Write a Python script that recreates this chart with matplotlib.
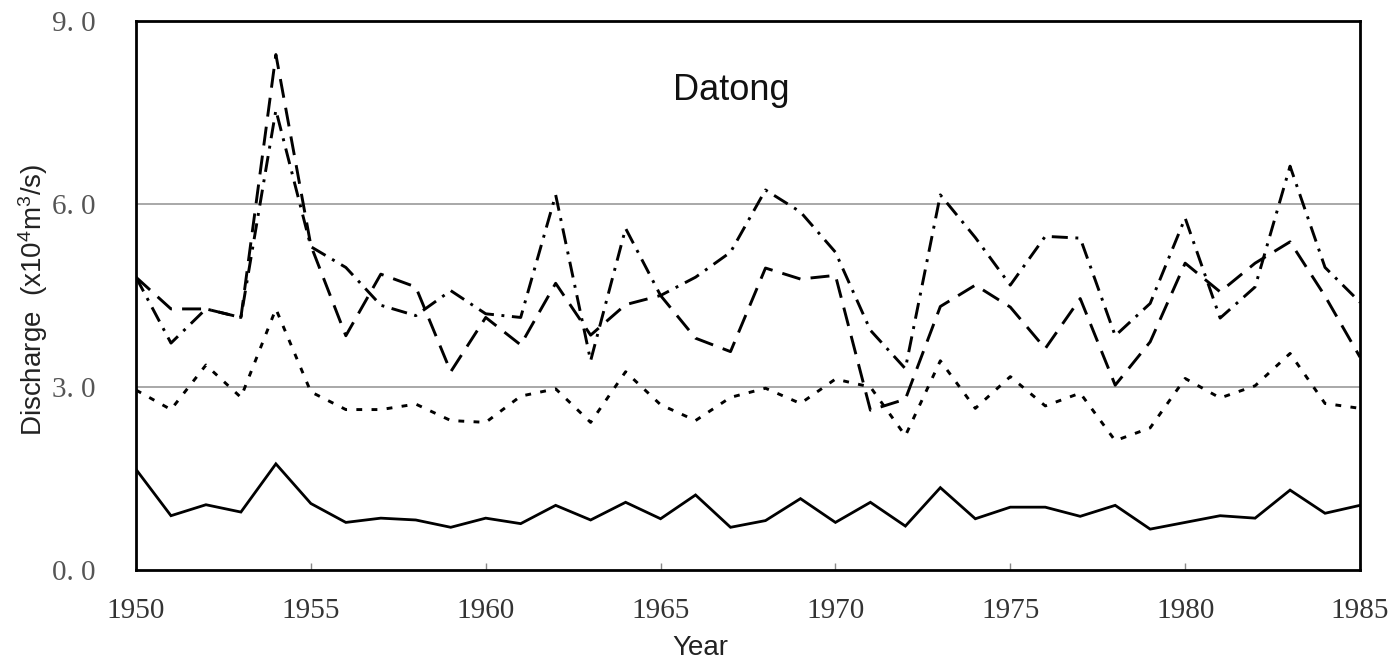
import matplotlib
matplotlib.use("Agg")
import matplotlib.pyplot as plt
import numpy as np

years = list(range(1950, 1986))

# solid line
series_solid = [1.65, 0.89, 1.07, 0.95, 1.74, 1.09, 0.78, 0.85, 0.82, 0.70,
                0.85, 0.76, 1.06, 0.82, 1.11, 0.84, 1.23, 0.70, 0.81, 1.17,
                0.78, 1.11, 0.72, 1.35, 0.84, 1.03, 1.03, 0.88, 1.06, 0.67,
                0.78, 0.89, 0.85, 1.31, 0.93, 1.06]

# dotted (short dashes)
series_dotted = [2.95, 2.63, 3.36, 2.83, 4.28, 2.92, 2.63, 2.63, 2.72, 2.45,
                 2.42, 2.85, 2.97, 2.42, 3.25, 2.71, 2.45, 2.83, 2.98, 2.73,
                 3.13, 3.00, 2.20, 3.43, 2.65, 3.17, 2.69, 2.90, 2.12, 2.33,
                 3.14, 2.82, 3.02, 3.55, 2.73, 2.65]

# long dashes
series_dashed = [4.80, 4.28, 4.28, 4.14, 8.45, 5.32, 3.84, 4.85, 4.64, 3.25,
                 4.14, 3.69, 4.70, 3.85, 4.35, 4.50, 3.80, 3.58, 4.95, 4.77,
                 4.83, 2.62, 2.80, 4.32, 4.67, 4.31, 3.63, 4.45, 3.03, 3.74,
                 5.03, 4.56, 5.03, 5.38, 4.49, 3.49]

# dash-dot
series_dashdot = [4.80, 3.72, 4.28, 4.14, 7.54, 5.30, 4.96, 4.34, 4.17, 4.58,
                  4.20, 4.14, 6.15, 3.43, 5.60, 4.50, 4.80, 5.21, 6.23, 5.87,
                  5.21, 3.93, 3.30, 6.15, 5.45, 4.67, 5.47, 5.44, 3.84, 4.37,
                  5.77, 4.13, 4.64, 6.62, 4.96, 4.39]

yticks = [0.0, 3.0, 6.0, 9.0]
ytick_labels = ["0. 0", "3. 0", "6. 0", "9. 0"]
xticks = [1950, 1955, 1960, 1965, 1970, 1975, 1980, 1985]
title_text = "Datong"

plt.rcParams['mathtext.default'] = 'regular'

fig = plt.figure(figsize=(13.96, 6.61), dpi=100)
ax = fig.add_axes([136/1396, 1 - 570/661, (1360-136)/1396, (570-21)/661])

for y in [3.0, 6.0]:
    ax.axhline(y, color='#9a9a9a', lw=1.2, zorder=1)

lw = 2.1
ax.plot(years, series_solid, color='black', lw=2.0, solid_joinstyle='miter', zorder=3)
ax.plot(years, series_dotted, color='black', lw=lw, dashes=(2.0, 3.2), zorder=3)
ax.plot(years, series_dashed, color='black', lw=lw, dashes=(6.5, 3.5), zorder=3)
ax.plot(years, series_dashdot, color='black', lw=lw, dashes=(5.5, 2.6, 1.0, 2.6), zorder=3)

ax.set_xlim(1950, 1985)
ax.set_ylim(0, 9)

for s in ax.spines.values():
    s.set_linewidth(2.0)
    s.set_color('black')

ax.set_xticks(xticks)
ax.set_xticklabels([str(x) for x in xticks], family='Liberation Serif',
                   fontsize=21, color='#333333')
ax.tick_params(axis='x', direction='in', length=5, width=1, color='#888888',
               pad=20)
ax.set_yticks(yticks)
ax.set_yticklabels(ytick_labels, family='Liberation Serif', fontsize=21,
                   color='#555555')
ax.tick_params(axis='y', length=0, pad=29)

ax.set_xlabel("Year", family='Liberation Sans', fontsize=20, color='#222222')
ax.xaxis.set_label_coords((700 - 136) / 1224, -(648 - 570) / 549)
ax.xaxis.label.set_va('center')
ax.set_ylabel("Discharge  (x10$^4$m$^3$/s)", family='Liberation Sans',
              fontsize=20, color='#222222')
ax.yaxis.set_label_coords(-(136 - 33) / 1224, (570 - 300) / 549)
ax.yaxis.label.set_va('center')

ax.text(0.486, 0.874, title_text, transform=ax.transAxes, ha='center',
        va='center', family='Liberation Sans', fontsize=26, color='#111111')

fig.savefig("out.png", dpi=100, facecolor='white')
